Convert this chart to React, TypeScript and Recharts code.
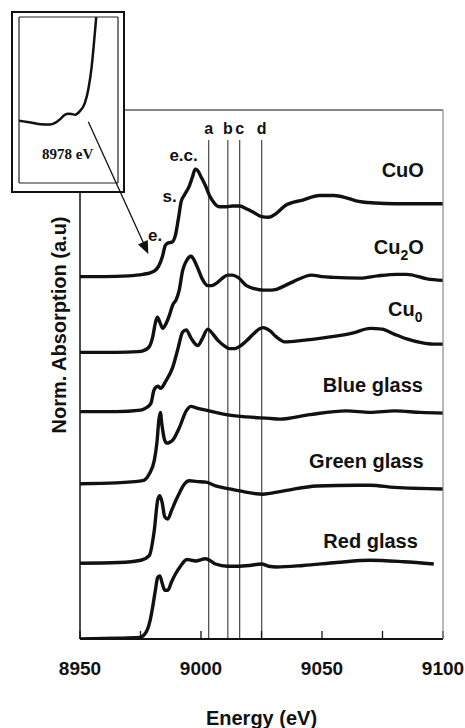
import React from 'react';
import { LineChart, Line, XAxis, YAxis, ReferenceLine, ReferenceDot } from 'recharts';

type Pt = [number, number];

// Main panel: energy (eV) vs normalised absorption, one edge step = 1
const cuO: Pt[] = [
  [8950, 0], [8960, 0], [8970, 0.01], [8976, 0.03], [8979, 0.05], [8981, 0.08], [8982.5, 0.14],
  [8984, 0.26], [8985.3, 0.42], [8986.5, 0.45], [8988, 0.46], [8989.5, 0.56], [8990.8, 0.8],
  [8991.8, 1.0], [8993.2, 1.09], [8995.2, 1.21], [8996.5, 1.33], [8997.6, 1.43], [8998.5, 1.42],
  [9000, 1.33], [9002, 1.2], [9003.5, 1.08], [9005.5, 0.98], [9007.7, 0.93], [9010.5, 0.93],
  [9013, 0.94], [9016, 0.94], [9019, 0.9], [9021.5, 0.86], [9025, 0.8], [9028, 0.79], [9031, 0.84],
  [9035, 0.95], [9042, 1.02], [9049, 1.08], [9055, 1.08], [9060, 1.05], [9064, 1.01], [9072, 0.98],
  [9080, 0.97], [9090, 0.97], [9100, 0.97],
];

const cu2O: Pt[] = [
  [8950, 0], [8965, 0], [8974, 0.01], [8976, 0.02], [8978.5, 0.07], [8980, 0.2], [8981.2, 0.4],
  [8982, 0.47], [8983, 0.4], [8984.2, 0.32], [8985.5, 0.38], [8987, 0.5], [8988.3, 0.63],
  [8989.7, 0.7], [8991, 0.83], [8992.4, 1.09], [8994, 1.22], [8995.9, 1.28], [8997.3, 1.22],
  [8998.7, 1.12], [9000.5, 0.98], [9002.8, 0.89], [9004.5, 0.89], [9006.3, 0.92], [9008.5, 0.98],
  [9011.1, 1.03], [9013, 1.03], [9015.3, 1.0], [9018.8, 0.89], [9022, 0.85], [9026, 0.83],
  [9029, 0.83], [9031.2, 0.84], [9034, 0.88], [9038, 0.94], [9045.7, 1.03], [9050, 1.01],
  [9054.7, 1.0], [9065.8, 0.99], [9073, 1.02], [9081, 1.04], [9085, 1.04], [9093.4, 0.98], [9100, 0.96],
];

const cu0: Pt[] = [
  [8950, 0], [8965, 0], [8975, 0.02], [8977.3, 0.05], [8979.3, 0.11], [8980.5, 0.28], [8981.5, 0.33],
  [8982.3, 0.34], [8983.3, 0.31], [8985.5, 0.41], [8988.3, 0.59], [8990.4, 0.83], [8992.4, 1.06],
  [8993.9, 1.09], [8995.9, 0.98], [8998.7, 0.88], [9000.5, 0.97], [9002.8, 1.1], [9004.5, 1.05],
  [9007, 0.95], [9009.5, 0.88], [9011.8, 0.84], [9014, 0.84], [9016, 0.87], [9019, 0.95],
  [9021.5, 1.03], [9024, 1.1], [9025.6, 1.12], [9028.4, 1.08], [9031, 1.0], [9034.6, 0.93],
  [9042, 0.95], [9052, 0.99], [9063, 1.05], [9069.9, 1.11], [9074.8, 1.1], [9080, 1.03],
  [9085, 0.97], [9091, 0.92], [9096, 0.9], [9100, 0.9],
];

const blueGlass: Pt[] = [
  [8950, 0], [8965, 0.01], [8975.9, 0.04], [8978.6, 0.13], [8980.7, 0.31], [8981.8, 0.55],
  [8982.6, 0.85], [8983.2, 0.95], [8983.8, 0.8], [8984.8, 0.6], [8985.8, 0.54], [8987, 0.55],
  [8988.3, 0.58], [8991.1, 0.75], [8993.9, 0.97], [8995.9, 1.03], [8998, 1.01], [9002.1, 0.98],
  [9006, 0.95], [9010.4, 0.92], [9018.8, 0.89], [9028.4, 0.87], [9032.6, 0.86], [9045, 0.92],
  [9060, 0.97], [9070, 0.95], [9080, 0.97], [9090.7, 0.95], [9100, 0.94],
];

const greenGlass: Pt[] = [
  [8950, 0], [8966, 0.01], [8975.2, 0.04], [8978.6, 0.1], [8980.7, 0.44], [8982.1, 0.84], [8983, 0.9],
  [8984, 0.8], [8985, 0.62], [8986.3, 0.59], [8987.8, 0.7], [8989.5, 0.83], [8991.3, 0.95],
  [8993, 1.05], [8995.2, 1.1], [8998, 1.09], [9002.1, 1.08], [9006, 1.03], [9011.8, 0.99],
  [9018, 0.95], [9025.6, 0.92], [9028.4, 0.93], [9035.4, 0.97], [9047.8, 1.03], [9064.4, 1.04],
  [9070, 1.04], [9080, 1.01], [9100, 0.99],
];

const redGlass: Pt[] = [
  [8950, 0], [8965, 0.01], [8974.5, 0.02], [8977.3, 0.09], [8979, 0.25], [8980, 0.42], [8981.2, 0.66],
  [8982.1, 0.82], [8983, 0.84], [8984, 0.74], [8985, 0.65], [8986.3, 0.65], [8987.8, 0.76],
  [8989.5, 0.87], [8991.3, 0.96], [8994.2, 1.06], [8996, 1.05], [8997.7, 1.04], [9001.9, 1.07],
  [9004, 1.04], [9006, 1.0], [9010.9, 0.97], [9015, 0.97], [9020, 0.98], [9025, 1.0], [9028, 0.97],
  [9031.2, 0.96], [9042.2, 0.98], [9056.1, 1.02], [9069.9, 1.05], [9083.7, 1.03], [9096.2, 1.0],
];

const seriesNames = ['CuO', 'Cu2O', 'Cu0', 'Blue glass', 'Green glass', 'Red glass'];
const seriesPoints = [cuO, cu2O, cu0, blueGlass, greenGlass, redGlass];
const stackOffsets = [4.83, 3.82, 3.03, 2.07, 1.01, 0];
// right end of each name: [energy, y]
const namePos: Pt[] = [[9092.1, 6.25], [9092.1, 5.23], [9091.5, 4.4], [9091.7, 3.39], [9092, 2.37], [9089.6, 1.3]];

const energyTicks = [8950, 8975, 9000, 9025, 9050, 9075, 9100];
const topTicks = [8975, 9000, 9025, 9050, 9075];
const yTicks = [0, 1.01, 2.06, 3.0, 3.81, 5.7];

const edgeLines = [9003.2, 9011.1, 9016, 9025.1];
const edgeLetters = ['a', 'b', 'c', 'd'];

const featureTags = ['e.c.', 's.', 'e.'];
const featurePos: Pt[] = [[8992.8, 6.45], [8987.0, 5.91], [8981.0, 5.39]];

// inset: CuO pre-edge, zoomed
const insetCurve: Pt[] = [
  [8970, 0.225], [8972.5, 0.217], [8973.7, 0.212], [8975.4, 0.211], [8976.3, 0.217], [8977.1, 0.229],
  [8978, 0.246], [8978.6, 0.25], [8979.2, 0.249], [8979.8, 0.247], [8980.6, 0.259], [8981.5, 0.289],
  [8982.1, 0.337], [8982.7, 0.421], [8983.1, 0.506], [8983.5, 0.6],
];
const insetXTicks = [8972, 8974, 8976, 8978, 8980, 8982, 8984, 8986];
const insetYTicks = [0.1, 0.2, 0.3, 0.4, 0.5];

const INK = '#111';
const SANS = "'Liberation Sans', Arial, sans-serif";

const nameLabel = (name: string) => (props: any) => {
  const vb = props.viewBox;
  const m = name.match(/^Cu(\d)(.*)$/);
  return (
    <text x={vb.x} y={vb.y} textAnchor="end" dominantBaseline="central" fontSize={20} fontWeight={700} fill={INK}>
      {m ? 'Cu' : name}
      {m && <tspan fontSize={14} dy={8}>{m[1]}</tspan>}
      {m && m[2] && <tspan dy={-8}>{m[2]}</tspan>}
    </text>
  );
};

const yLabel = (props: any) => {
  const vb = props.viewBox;
  const cx = vb.x + vb.width - 21;
  const cy = 325;
  return (
    <text x={cx} y={cy} transform={`rotate(-90 ${cx} ${cy})`} textAnchor="middle" dominantBaseline="central"
      fontSize={20} fontWeight={700} fill={INK}>
      Norm. Absorption (a.u)
    </text>
  );
};

export default function App() {
  return (
    <div style={{ position: 'absolute', left: 0, top: 0, width: 465, height: 728, background: '#fff', fontFamily: SANS }}>
      <div style={{ position: 'absolute', left: 0, top: 0 }}>
        <LineChart width={465} height={728} margin={{ top: 109, right: 21, bottom: 88, left: 79 }}>
          <XAxis dataKey="e" type="number" domain={[8950, 9100]} ticks={energyTicks} interval={0} allowDataOverflow
            height={1} tickSize={-8} tickMargin={31}
            tickFormatter={(v: number) => (v % 50 === 0 ? String(v) : '')}
            tick={{ fontSize: 19, fontWeight: 700, fill: INK }}
            axisLine={{ stroke: INK, strokeWidth: 2 }} tickLine={{ stroke: INK, strokeWidth: 1.3 }}
            label={{ value: 'Energy (eV)', position: 'bottom', offset: 71, fontSize: 20, fontWeight: 700, fill: INK }} />
          <XAxis xAxisId="top" orientation="top" dataKey="e" type="number" domain={[8950, 9100]} ticks={topTicks}
            interval={0} allowDataOverflow height={1} tick={false} tickSize={-7}
            axisLine={{ stroke: INK, strokeWidth: 1 }} tickLine={{ stroke: INK, strokeWidth: 1 }} />
          <YAxis type="number" domain={[0, 7.05]} ticks={yTicks} interval={0} allowDataOverflow width={1}
            tick={false} tickSize={-7} axisLine={{ stroke: INK, strokeWidth: 1.5 }}
            tickLine={{ stroke: INK, strokeWidth: 2.4 }} label={{ content: yLabel }} />
          <YAxis yAxisId="r" orientation="right" type="number" domain={[0, 7.05]} ticks={[0, 7.05]} width={1}
            tick={false} tickLine={false} axisLine={{ stroke: '#8a8a8a', strokeWidth: 1.2 }} />

          {edgeLines.map((x, i) => (
            <ReferenceLine key={edgeLetters[i]} segment={[{ x, y: 0 }, { x, y: 6.65 }]} stroke="#222" strokeWidth={1}
              label={{ value: edgeLetters[i], position: 'top', offset: 6, fontSize: 16, fontWeight: 700, fill: INK }} />
          ))}

          {seriesPoints.map((pts, i) => (
            <Line key={seriesNames[i]} data={pts.map(([e, v]) => ({ e, v: v + stackOffsets[i] }))} dataKey="v"
              type="monotone" stroke={INK} strokeWidth={3.4} dot={false} isAnimationActive={false} />
          ))}

          {seriesNames.map((name, i) => (
            <ReferenceDot key={'n' + name} x={namePos[i][0]} y={namePos[i][1]} r={0} fill="none" stroke="none"
              label={{ content: nameLabel(name) }} />
          ))}

          {featureTags.map((t, i) => (
            <ReferenceDot key={'f' + t} x={featurePos[i][0]} y={featurePos[i][1]} r={0} fill="none" stroke="none"
              label={{ value: t, position: 'center', fontSize: 17, fontWeight: 700, fill: INK }} />
          ))}
        </LineChart>
      </div>

      {/* inset frame */}
      <div style={{ position: 'absolute', left: 11, top: 11, width: 114, height: 182, border: '2px solid #111', background: '#fff', boxSizing: 'border-box' }} />
      <div style={{ position: 'absolute', left: 0, top: 0 }}>
        <LineChart width={140} height={200} margin={{ top: 16, right: 21, bottom: 16, left: 18 }}>
          <XAxis dataKey="e" type="number" domain={[8970, 8987.3]} ticks={insetXTicks} interval={0} allowDataOverflow
            height={1} tick={false} tickSize={-4} axisLine={{ stroke: '#222', strokeWidth: 1.2 }} tickLine={{ stroke: '#222' }} />
          <XAxis xAxisId="top" orientation="top" dataKey="e" type="number" domain={[8970, 8987.3]} ticks={insetXTicks}
            interval={0} allowDataOverflow height={1} tick={false} tickSize={-4}
            axisLine={{ stroke: '#222', strokeWidth: 1.2 }} tickLine={{ stroke: '#222' }} />
          <YAxis type="number" domain={[0, 0.6]} ticks={insetYTicks} interval={0} allowDataOverflow width={1}
            tick={false} tickSize={-4} axisLine={{ stroke: '#222', strokeWidth: 1.2 }} tickLine={{ stroke: '#222' }} />
          <YAxis yAxisId="r" orientation="right" type="number" domain={[0, 0.6]} ticks={insetYTicks} interval={0}
            allowDataOverflow width={1} tick={false} tickSize={-4}
            axisLine={{ stroke: '#222', strokeWidth: 1.2 }} tickLine={{ stroke: '#222' }} />
          <Line data={insetCurve.map(([e, v]) => ({ e, v }))} dataKey="v" type="monotone" stroke={INK}
            strokeWidth={2.5} dot={false} isAnimationActive={false} />
          <ReferenceDot x={8978.5} y={0.106} r={0} fill="none" stroke="none"
            label={{ value: '8978 eV', position: 'center', fontSize: 15, fontWeight: 700, fill: INK,
              fontFamily: "'Liberation Serif', 'Times New Roman', serif" }} />
        </LineChart>
      </div>

      {/* arrow from inset to the pre-edge */}
      <svg width={465} height={728} style={{ position: 'absolute', left: 0, top: 0, pointerEvents: 'none' }}>
        <line x1={88.3} y1={121.7} x2={143.5} y2={243} stroke={INK} strokeWidth={1.3} />
        <polygon points="148.3,254 138,244.4 147.8,240" fill={INK} />
      </svg>
    </div>
  );
}
